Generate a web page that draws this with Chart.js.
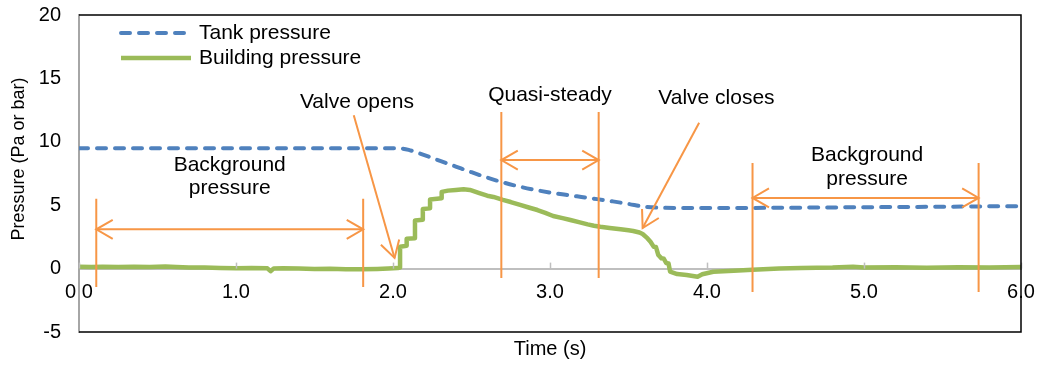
<!DOCTYPE html>
<html>
<head>
<meta charset="utf-8">
<script src="https://cdn.jsdelivr.net/npm/chart.js@4.4.1/dist/chart.umd.min.js"></script>
<style>
  html, body { margin: 0; padding: 0; background: #ffffff; }
  #wrap { width: 1041px; height: 365px; position: relative; }
</style>
</head>
<body>
<div id="wrap"><canvas id="chart" width="1041" height="365"></canvas></div>
<script>
// ---- measured series ----
const tankTime = [0, 0.5, 1.0, 1.5, 2.0, 2.05, 2.1, 2.2, 2.3, 2.4, 2.5, 2.6, 2.7, 2.8, 2.9, 3.0, 3.1, 3.2, 3.3, 3.4, 3.5, 3.6, 3.7, 3.85, 4.0, 4.5, 5.0, 5.5, 6.0];
const tankPressure = [9.5, 9.5, 9.5, 9.5, 9.5, 9.48, 9.36, 8.95, 8.5, 8.05, 7.6, 7.18, 6.8, 6.48, 6.22, 6.0, 5.82, 5.65, 5.48, 5.3, 5.1, 4.88, 4.8, 4.78, 4.77, 4.8, 4.84, 4.88, 4.93];

const buildingTime = [
  0, 0.08, 0.15, 0.25, 0.35, 0.45, 0.55, 0.62, 0.7, 0.8, 0.9, 1.0, 1.1, 1.2, 1.22, 1.24, 1.3, 1.4, 1.5, 1.6, 1.7, 1.8, 1.9, 1.97, 2.03, 2.045,
  2.045, 2.087, 2.087, 2.14, 2.14, 2.19, 2.19, 2.236, 2.236, 2.31, 2.31, 2.35, 2.40, 2.45, 2.49,
  2.55, 2.6, 2.64, 2.7, 2.75, 2.81, 2.87, 2.92, 2.97, 3.02, 3.08, 3.13, 3.19, 3.24, 3.28, 3.32, 3.38, 3.45, 3.5, 3.53, 3.57,
  3.59, 3.62, 3.64, 3.66, 3.675, 3.69, 3.71, 3.725, 3.74, 3.755, 3.765, 3.81, 3.87, 3.94, 3.97, 4.04, 4.17, 4.29, 4.46,
  4.6, 4.8, 4.93, 5.0, 5.2, 5.4, 5.6, 5.8, 6.0
];
const buildingPressure = [
  0.14, 0.12, 0.15, 0.12, 0.14, 0.12, 0.16, 0.12, 0.08, 0.09, 0.05, 0.03, 0.05, 0.02, -0.2, 0.0, 0.02, 0.0, -0.03, -0.02, -0.06, -0.05, -0.03, 0.0, 0.04, 0.08,
  1.73, 1.8, 2.35, 2.4, 3.8, 3.85, 4.7, 4.75, 5.45, 5.55, 6.05, 6.15, 6.2, 6.25, 6.2,
  5.95, 5.75, 5.65, 5.42, 5.25, 5.02, 4.8, 4.62, 4.4, 4.15, 3.98, 3.83, 3.65, 3.49, 3.38, 3.3, 3.2, 3.1, 3.02, 2.97, 2.85,
  2.73, 2.4, 2.12, 1.73, 1.7, 1.07, 0.81, 0.78, 0.44, 0.4, -0.24, -0.43, -0.5, -0.64, -0.45, -0.25, -0.16, -0.1, 0.0,
  0.05, 0.08, 0.15, 0.08, 0.1, 0.06, 0.1, 0.08, 0.12
];

const xTickValues = [0, 1, 2, 3, 4, 5, 6];
const yTickValues = [-5, 0, 5, 10, 15, 20];

// ---- annotation geometry, in axis units ----
const spans = [
  { x1: 0.11, x2: 1.81, top: 5.5, bottom: -1.45, arrowAt: 3.1 },
  { x1: 2.69, x2: 3.31, top: 12.35, bottom: -0.74, arrowAt: 8.56 },
  { x1: 4.29, x2: 5.73, top: 8.33, bottom: -1.85, arrowAt: 5.57 }
];
const pointers = [
  { from: [1.75, 12.1], to: [2.01, 0.84] },
  { from: [3.95, 11.5], to: [3.59, 3.2] }
];
const notes = [
  { x: 0.96, y: 7.26, lines: ['Background', 'pressure'] },
  { x: 1.77, y: 13.14, lines: ['Valve opens'] },
  { x: 3.0, y: 13.69, lines: ['Quasi-steady'] },
  { x: 4.06, y: 13.45, lines: ['Valve closes'] },
  { x: 5.02, y: 8.01, lines: ['Background', 'pressure'] }
];

const FONT = '"Liberation Sans", Arial, Helvetica, sans-serif';
const ORANGE = '#F79646';
const BLUE = '#4F81BD';
const GREEN = '#9BBB59';

function pairs(xs, ys) { return xs.map((x, i) => ({ x: x, y: ys[i] })); }

// keep the plot area fixed by the layout padding alone
function clearScalePadding(scale) {
  scale.paddingLeft = 0;
  scale.paddingRight = 0;
  scale.paddingTop = 0;
  scale.paddingBottom = 0;
}

function arrowHead(ctx, tipX, tipY, fromX, fromY, len, spread) {
  const a = Math.atan2(tipY - fromY, tipX - fromX);
  ctx.beginPath();
  ctx.moveTo(tipX - len * Math.cos(a - spread), tipY - len * Math.sin(a - spread));
  ctx.lineTo(tipX, tipY);
  ctx.lineTo(tipX - len * Math.cos(a + spread), tipY - len * Math.sin(a + spread));
  ctx.stroke();
}

const decorations = {
  id: 'decorations',
  afterDatasetsDraw(chart) {
    const { ctx, scales } = chart;
    const xs = scales.x, ys = scales.y;
    const px = v => xs.getPixelForValue(v);
    const py = v => ys.getPixelForValue(v);
    ctx.save();

    // upward tick marks on the time axis
    ctx.strokeStyle = '#BFBFBF';
    ctx.lineWidth = 1.5;
    xs.ticks.forEach((t, i) => {
      const x = Math.round(xs.getPixelForTick(i)) + 0.5;
      ctx.beginPath();
      ctx.moveTo(x, py(0));
      ctx.lineTo(x, py(0) - 6);
      ctx.stroke();
    });

    // span markers with double arrows
    ctx.strokeStyle = ORANGE;
    ctx.lineWidth = 2;
    ctx.lineCap = 'butt';
    spans.forEach(s => {
      const x1 = px(s.x1), x2 = px(s.x2), yt = py(s.top), yb = py(s.bottom), ya = py(s.arrowAt);
      ctx.beginPath();
      ctx.moveTo(x1, yt); ctx.lineTo(x1, yb);
      ctx.moveTo(x2, yt); ctx.lineTo(x2, yb);
      ctx.moveTo(x1, ya); ctx.lineTo(x2, ya);
      ctx.stroke();
      arrowHead(ctx, x1, ya, x2, ya, 19, Math.PI / 6);
      arrowHead(ctx, x2, ya, x1, ya, 19, Math.PI / 6);
    });

    // pointer arrows
    pointers.forEach(p => {
      const fx = px(p.from[0]), fy = py(p.from[1]), tx = px(p.to[0]), ty = py(p.to[1]);
      ctx.beginPath();
      ctx.moveTo(fx, fy); ctx.lineTo(tx, ty);
      ctx.stroke();
      arrowHead(ctx, tx, ty, fx, fy, 19, Math.PI / 6);
    });

    // notes
    ctx.fillStyle = '#000000';
    ctx.font = '21px ' + FONT;
    ctx.textAlign = 'center';
    ctx.textBaseline = 'middle';
    notes.forEach(n => {
      const cx = px(n.x), cy = py(n.y);
      const lh = 23.5;
      const start = cy - (n.lines.length - 1) * lh / 2;
      n.lines.forEach((line, i) => ctx.fillText(line, cx, start + i * lh));
    });

    // legend inside the plot
    const legendX1 = 121, legendX2 = 191, legendTextX = 199;
    const legendRows = [33, 58];
    chart.data.datasets.forEach((ds, i) => {
      const y = legendRows[i];
      ctx.save();
      ctx.strokeStyle = ds.borderColor;
      ctx.lineWidth = ds.borderWidth;
      ctx.lineCap = ds.borderCapStyle || 'butt';
      ctx.setLineDash(ds.borderDash || []);
      ctx.beginPath();
      ctx.moveTo(legendX1, y); ctx.lineTo(legendX2, y);
      ctx.stroke();
      ctx.restore();
      ctx.fillStyle = '#000000';
      ctx.font = '21px ' + FONT;
      ctx.textAlign = 'left';
      ctx.textBaseline = 'middle';
      ctx.fillText(ds.label, legendTextX, y);
    });

    ctx.restore();
  },
  afterDraw(chart) {
    const { ctx, chartArea } = chart;
    ctx.save();
    // frame: black top, right and bottom edges
    ctx.strokeStyle = '#000000';
    ctx.lineWidth = 1.5;
    ctx.beginPath();
    ctx.moveTo(chartArea.left, chartArea.top);
    ctx.lineTo(chartArea.right, chartArea.top);
    ctx.lineTo(chartArea.right, chartArea.bottom);
    ctx.lineTo(chartArea.left, chartArea.bottom);
    ctx.stroke();

    // axis titles
    ctx.fillStyle = '#000000';
    ctx.textAlign = 'center';
    ctx.textBaseline = 'middle';
    ctx.font = '20px ' + FONT;
    ctx.fillText('Time (s)', (chartArea.left + chartArea.right) / 2, 349);
    ctx.translate(19, 159);
    ctx.rotate(-Math.PI / 2);
    ctx.font = '18px ' + FONT;
    ctx.fillText('Pressure (Pa or bar)', 0, 0);
    ctx.restore();
  }
};

new Chart(document.getElementById('chart'), {
  type: 'line',
  data: {
    datasets: [
      {
        label: 'Tank pressure',
        data: pairs(tankTime, tankPressure),
        borderColor: BLUE,
        borderWidth: 4,
        borderDash: [9, 9],
        borderCapStyle: 'round',
        pointRadius: 0,
        cubicInterpolationMode: 'monotone',
        fill: false
      },
      {
        label: 'Building pressure',
        data: pairs(buildingTime, buildingPressure),
        borderColor: GREEN,
        borderWidth: 4.5,
        borderJoinStyle: 'round',
        pointRadius: 0,
        tension: 0,
        fill: false
      }
    ]
  },
  options: {
    responsive: false,
    animation: false,
    devicePixelRatio: 1,
    layout: { padding: { left: 0, top: 15, right: 20, bottom: 33 } },
    plugins: {
      legend: { display: false },
      tooltip: { enabled: false }
    },
    scales: {
      x: {
        type: 'linear',
        min: 0,
        max: 6,
        position: { y: 0 },
        afterBuildTicks: scale => { scale.ticks = xTickValues.map(v => ({ value: v })); },
        afterFit: clearScalePadding,
        ticks: {
          callback: v => v.toFixed(1),
          color: '#000000',
          font: { family: FONT, size: 20 },
          padding: 12,
          maxRotation: 0,
          autoSkip: false
        },
        grid: { display: false, drawTicks: false },
        border: { display: true, color: '#BFBFBF', width: 2 }
      },
      y: {
        type: 'linear',
        min: -5,
        max: 20,
        afterBuildTicks: scale => { scale.ticks = yTickValues.map(v => ({ value: v })); },
        afterFit: scale => { scale.width = 79; clearScalePadding(scale); },
        ticks: {
          color: '#000000',
          font: { family: FONT, size: 20 },
          padding: 18
        },
        grid: { display: false, drawTicks: false },
        border: { display: true, color: '#A6A6A6', width: 2 }
      }
    }
  },
  plugins: [decorations]
});
</script>
</body>
</html>
